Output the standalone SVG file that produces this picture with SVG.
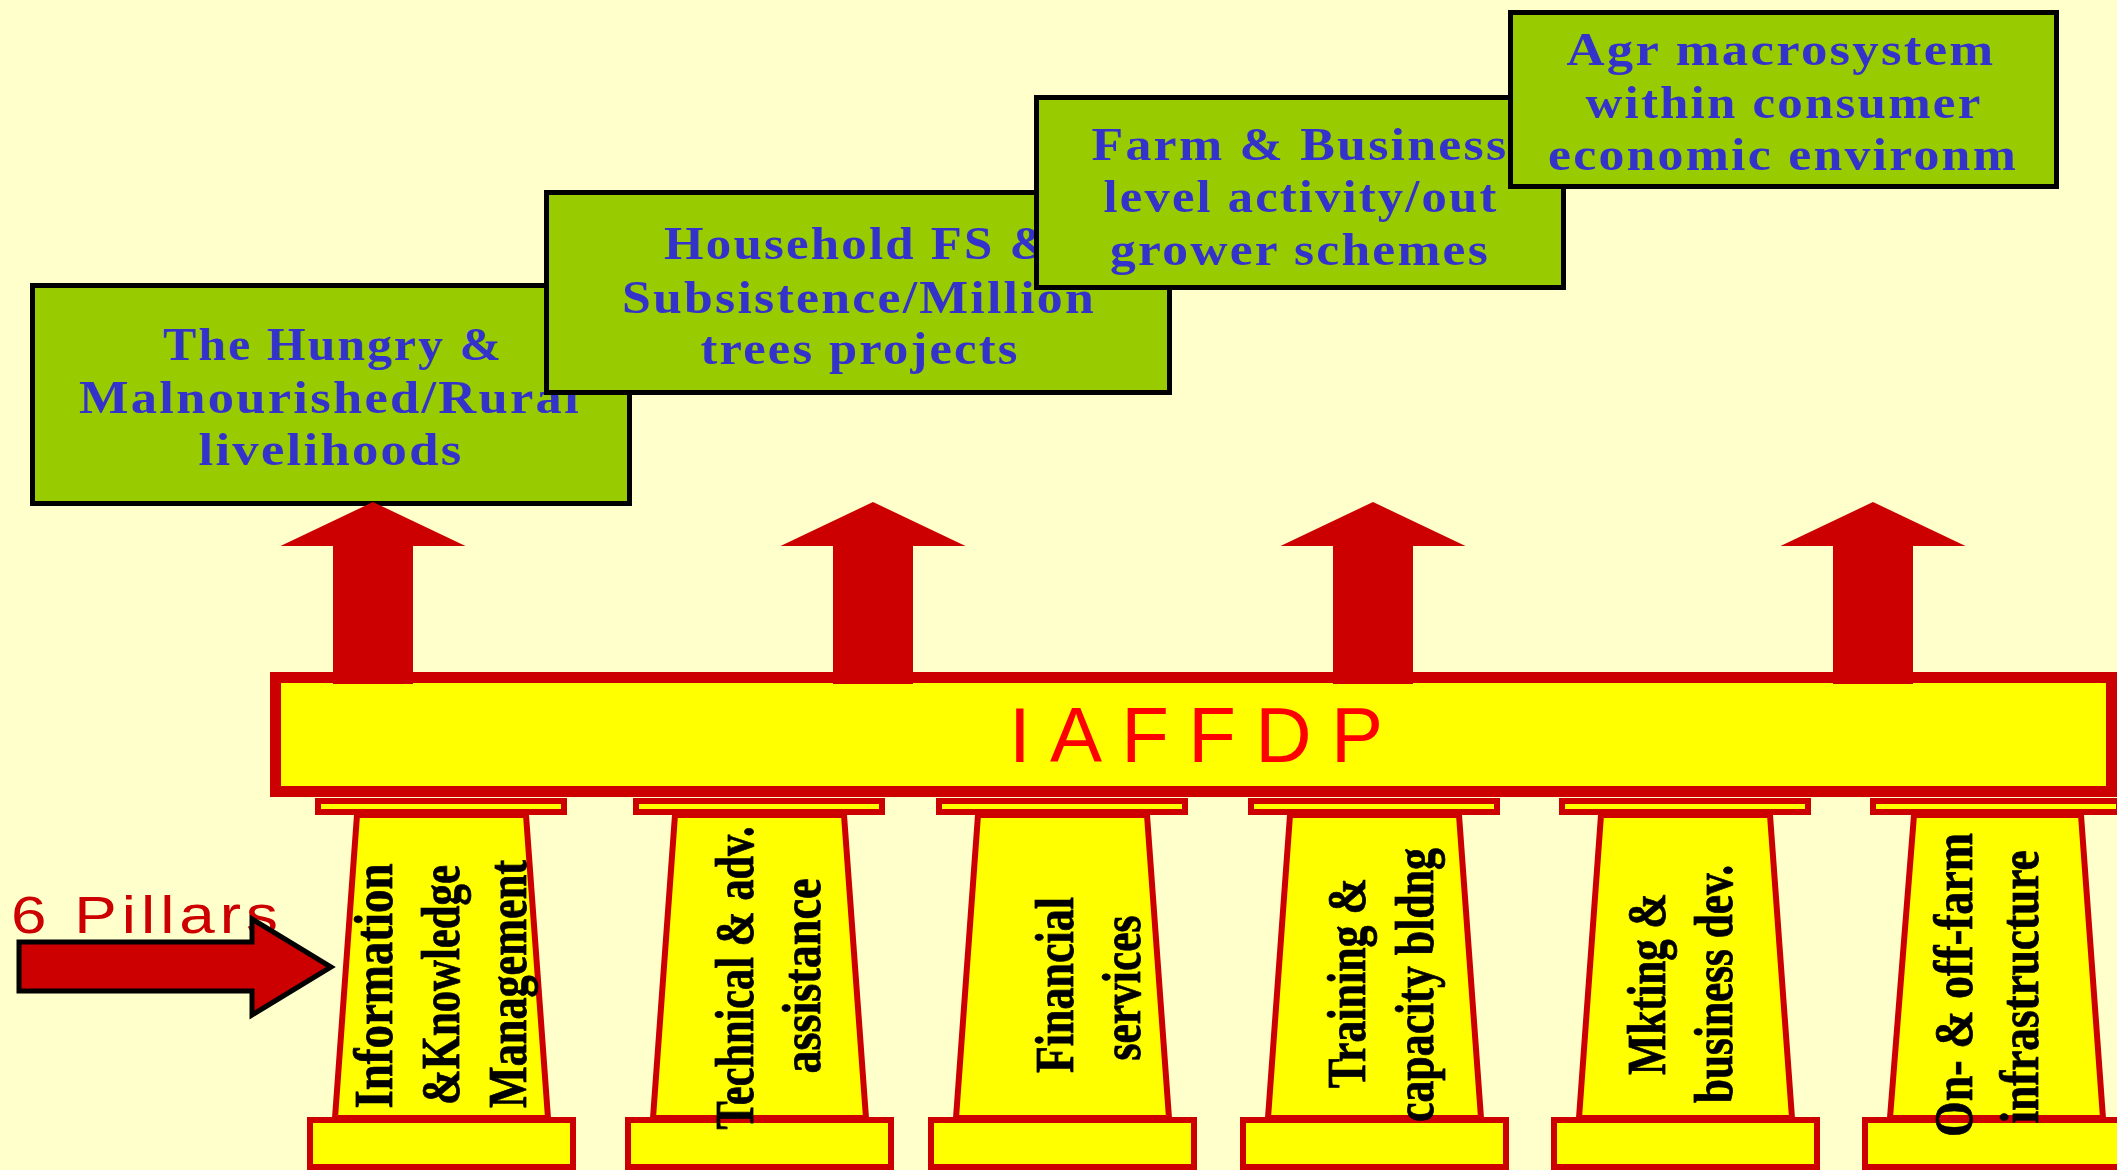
<svg xmlns="http://www.w3.org/2000/svg" width="2117" height="1170" viewBox="0 0 2117 1170">
<style>
.box{fill:#99CC00;stroke:#000;stroke-width:5}
.bt{font-family:"Liberation Serif","Times New Roman",serif;font-weight:bold;font-size:46px;fill:#3333CC;text-anchor:middle;letter-spacing:2px}
.pil{fill:#FFFF00;stroke:#CC0000;stroke-width:6}
.pt{font-family:"Liberation Serif","Times New Roman",serif;font-weight:bold;font-size:55px;fill:#000;stroke:#000;stroke-width:0.8;text-anchor:middle}
.up{fill:#CC0000}
</style>
<rect width="2117" height="1170" fill="#FFFFCC"/>
<g id="box1">
<rect class="box" x="32.5" y="285.5" width="597" height="218"/>
<text class="bt" x="333" y="360" textLength="340" lengthAdjust="spacingAndGlyphs">The Hungry &amp;</text>
<text class="bt" x="330" y="413" textLength="502" lengthAdjust="spacingAndGlyphs">Malnourished/Rural</text>
<text class="bt" x="331" y="465" textLength="265" lengthAdjust="spacingAndGlyphs">livelihoods</text>
</g>
<g id="box2">
<rect class="box" x="546.5" y="192.5" width="623" height="200"/>
<text class="bt" x="859" y="259" textLength="390" lengthAdjust="spacingAndGlyphs">Household FS &amp;</text>
<text class="bt" x="859" y="313" textLength="474" lengthAdjust="spacingAndGlyphs">Subsistence/Million</text>
<text class="bt" x="860" y="364" textLength="319" lengthAdjust="spacingAndGlyphs">trees projects</text>
</g>
<g id="box3">
<rect class="box" x="1036.5" y="97.5" width="527" height="190"/>
<text class="bt" x="1300" y="160" textLength="417" lengthAdjust="spacingAndGlyphs">Farm &amp; Business</text>
<text class="bt" x="1301" y="212" textLength="395" lengthAdjust="spacingAndGlyphs">level activity/out</text>
<text class="bt" x="1300" y="265" textLength="380" lengthAdjust="spacingAndGlyphs">grower schemes</text>
</g>
<g id="box4">
<rect class="box" x="1510.5" y="12.5" width="546" height="174"/>
<text class="bt" x="1781" y="65" textLength="429" lengthAdjust="spacingAndGlyphs">Agr macrosystem</text>
<text class="bt" x="1784" y="118" textLength="397" lengthAdjust="spacingAndGlyphs">within consumer</text>
<text class="bt" x="1783" y="170" textLength="470" lengthAdjust="spacingAndGlyphs">economic environm</text>
</g>
<g id="connectors">
<polygon class="up" points="373,502 465.5,546 413,546 413,684 333,684 333,546 280.5,546"/>
<polygon class="up" points="873,502 965.5,546 913,546 913,684 833,684 833,546 780.5,546"/>
<polygon class="up" points="1373,502 1465.5,546 1413,546 1413,684 1333,684 1333,546 1280.5,546"/>
<polygon class="up" points="1873,502 1965.5,546 1913,546 1913,684 1833,684 1833,546 1780.5,546"/>
</g>
<g id="iaffdp">
<rect x="275.5" y="677.5" width="1836" height="114" fill="#FFFF00" stroke="#CC0000" stroke-width="11"/>
<rect x="333" y="672" width="80" height="12" fill="#CC0000"/>
<rect x="833" y="672" width="80" height="12" fill="#CC0000"/>
<rect x="1333" y="672" width="80" height="12" fill="#CC0000"/>
<rect x="1833" y="672" width="80" height="12" fill="#CC0000"/>
<text x="1009" y="762" font-family="Liberation Sans, Arial, sans-serif" font-size="78" fill="#FF0000" textLength="374" lengthAdjust="spacing">IAFFDP</text>
</g>
<g id="pillar1">
<rect class="pil" x="318" y="801" width="246" height="11"/>
<polygon class="pil" points="357,815 526,815 548,1118 335,1118"/>
<rect class="pil" x="310" y="1120" width="263" height="47"/>
<text class="pt" transform="translate(392,986) rotate(-90)" textLength="245" lengthAdjust="spacingAndGlyphs">Information</text>
<text class="pt" transform="translate(459,985) rotate(-90)" textLength="240" lengthAdjust="spacingAndGlyphs">&amp;Knowledge</text>
<text class="pt" transform="translate(526,984) rotate(-90)" textLength="248" lengthAdjust="spacingAndGlyphs">Management</text>
</g>
<g id="pillar2">
<rect class="pil" x="636" y="801" width="246" height="11"/>
<polygon class="pil" points="675,815 844,815 866,1118 653,1118"/>
<rect class="pil" x="628" y="1120" width="263" height="47"/>
<text class="pt" transform="translate(753,978) rotate(-90)" textLength="303" lengthAdjust="spacingAndGlyphs">Technical &amp; adv.</text>
<text class="pt" transform="translate(820,976) rotate(-90)" textLength="195" lengthAdjust="spacingAndGlyphs">assistance</text>
</g>
<g id="pillar3">
<rect class="pil" x="939" y="801" width="246" height="11"/>
<polygon class="pil" points="978,815 1147,815 1169,1118 956,1118"/>
<rect class="pil" x="931" y="1120" width="263" height="47"/>
<text class="pt" transform="translate(1073,985) rotate(-90)" textLength="176" lengthAdjust="spacingAndGlyphs">Financial</text>
<text class="pt" transform="translate(1140,988) rotate(-90)" textLength="145" lengthAdjust="spacingAndGlyphs">services</text>
</g>
<g id="pillar4">
<rect class="pil" x="1251" y="801" width="246" height="11"/>
<polygon class="pil" points="1290,815 1459,815 1481,1118 1268,1118"/>
<rect class="pil" x="1243" y="1120" width="263" height="47"/>
<text class="pt" transform="translate(1365,983) rotate(-90)" textLength="210" lengthAdjust="spacingAndGlyphs">Training &amp;</text>
<text class="pt" transform="translate(1433,985) rotate(-90)" textLength="274" lengthAdjust="spacingAndGlyphs">capacity bldng</text>
</g>
<g id="pillar5">
<rect class="pil" x="1562" y="801" width="246" height="11"/>
<polygon class="pil" points="1601,815 1770,815 1792,1118 1579,1118"/>
<rect class="pil" x="1554" y="1120" width="263" height="47"/>
<text class="pt" transform="translate(1665,984) rotate(-90)" textLength="182" lengthAdjust="spacingAndGlyphs">Mkting &amp;</text>
<text class="pt" transform="translate(1732,984) rotate(-90)" textLength="238" lengthAdjust="spacingAndGlyphs">business dev.</text>
</g>
<g id="pillar6">
<rect class="pil" x="1873" y="801" width="246" height="11"/>
<polygon class="pil" points="1914,815 2081,815 2103,1118 1890,1118"/>
<rect class="pil" x="1865" y="1120" width="263" height="47"/>
<text class="pt" transform="translate(1972,985) rotate(-90)" textLength="304" lengthAdjust="spacingAndGlyphs">On- &amp; off-farm</text>
<text class="pt" transform="translate(2038,987) rotate(-90)" textLength="273" lengthAdjust="spacingAndGlyphs">infrastructure</text>
</g>
<g id="pillars-label">
<text x="11" y="933" font-family="Liberation Sans, Arial, sans-serif" font-size="51" fill="#CC0000" letter-spacing="4" textLength="272" lengthAdjust="spacingAndGlyphs">6 Pillars</text>
<polygon points="19,942 252,942 252,919 331,967 252,1015 252,991 19,991" fill="#CC0000" stroke="#000" stroke-width="5"/>
</g>
</svg>
